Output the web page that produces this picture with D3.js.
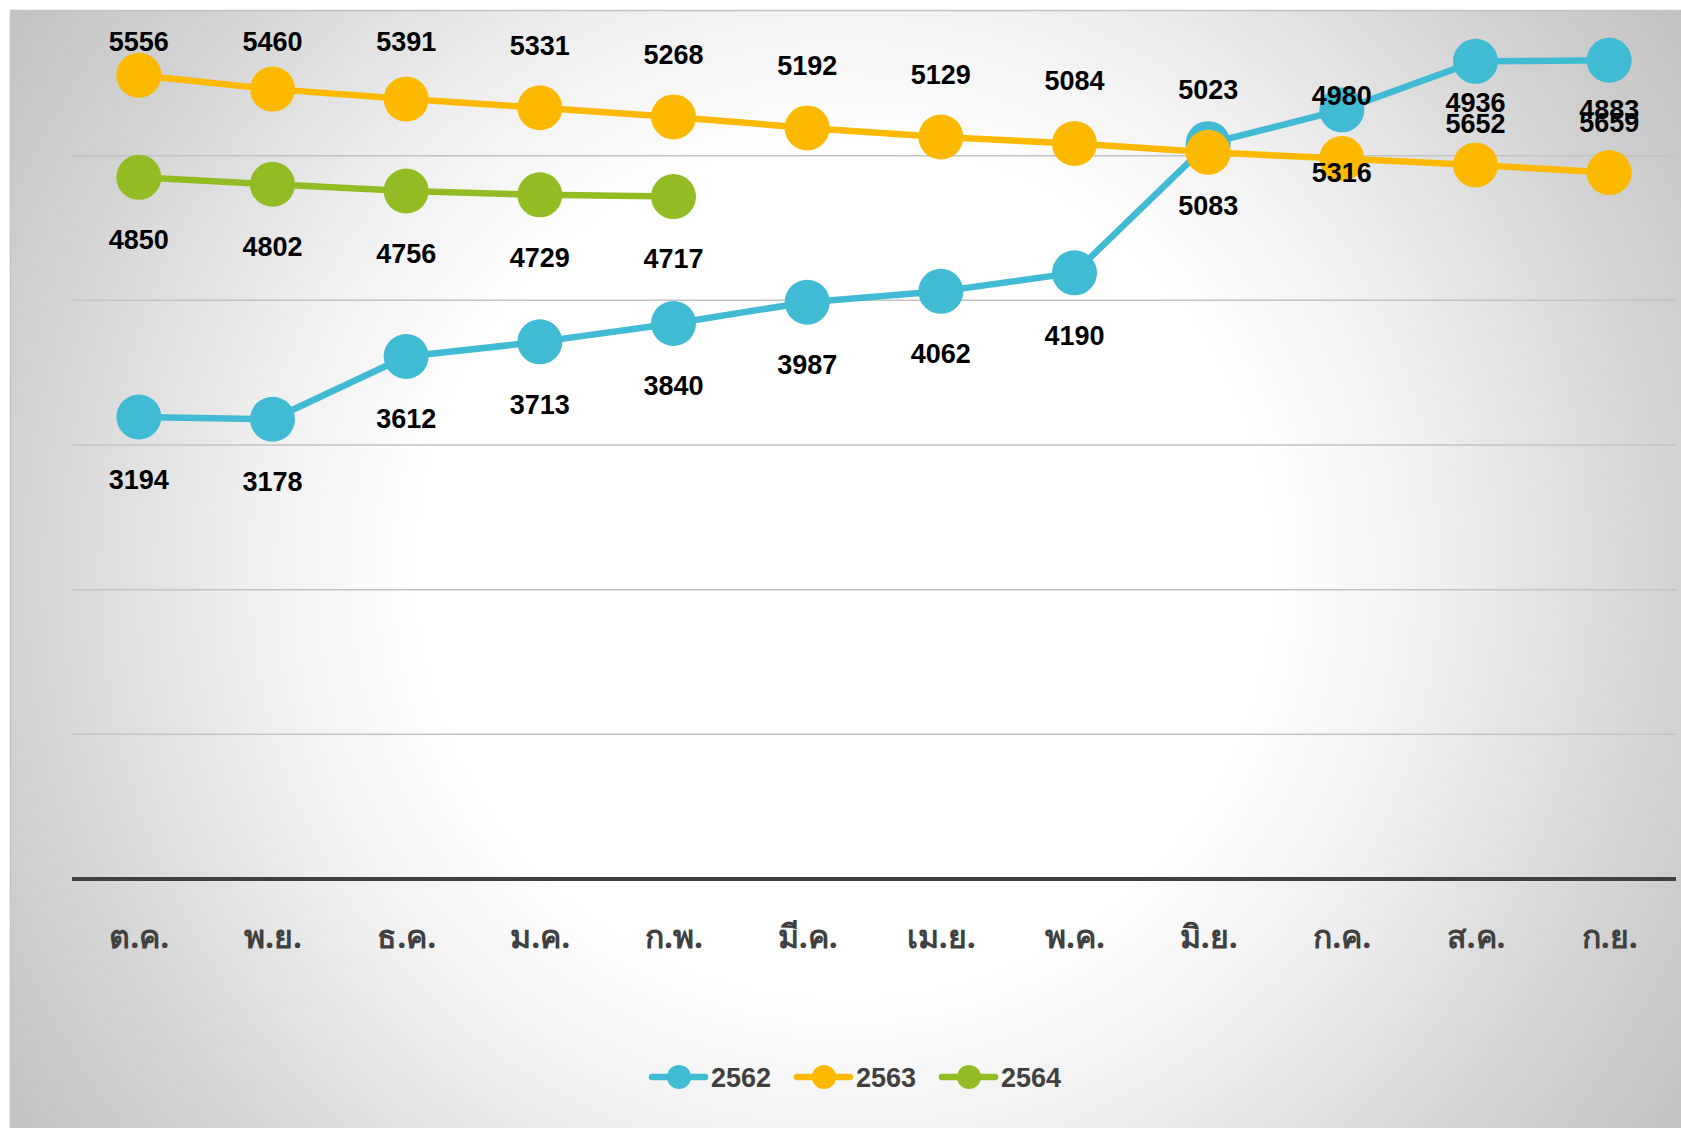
<!DOCTYPE html>
<html>
<head>
<meta charset="utf-8">
<script src="https://d3js.org/d3.v7.min.js"></script>
<style>
    html, body { margin: 0; padding: 0; background: #ffffff; }
    #chart-container { width: 1681px; height: 1128px; }
</style>
</head>
<body>
<div id="chart-container"></div>
<script>
// Monthly counts, fiscal years 2562-2564
const months = ['ต.ค.', 'พ.ย.', 'ธ.ค.', 'ม.ค.', 'ก.พ.', 'มี.ค.', 'เม.ย.', 'พ.ค.', 'มิ.ย.', 'ก.ค.', 'ส.ค.', 'ก.ย.'];
const values2562 = [3194, 3178, 3612, 3713, 3840, 3987, 4062, 4190, 5083, 5316, 5652, 5659];
const values2563 = [5556, 5460, 5391, 5331, 5268, 5192, 5129, 5084, 5023, 4980, 4936, 4883];
const values2564 = [4850, 4802, 4756, 4729, 4717, null, null, null, null, null, null, null];
const seriesNames = ['2562', '2563', '2564'];
const gridValues = [1000, 2000, 3000, 4000, 5000];

document.addEventListener('DOMContentLoaded', function() {
    drawChart();
});

function drawChart() {
    const container = document.getElementById('chart-container');
    const width = 1681;
    const height = 1128;

    const series = [
        { name: seriesNames[0], values: values2562, color: '#41BAD4', labelPos: 'below' },
        { name: seriesNames[1], values: values2563, color: '#FCB900', labelPos: 'above' },
        { name: seriesNames[2], values: values2564, color: '#92BC23', labelPos: 'below' }
    ];

    const svg = d3.create('svg')
        .attr('width', width)
        .attr('height', height)
        .attr('viewBox', [0, 0, width, height]);

    // Background gradient (white centre, grey edges)
    const grad = svg.append('defs').append('radialGradient')
        .attr('id', 'bg-grad')
        .attr('gradientUnits', 'userSpaceOnUse')
        .attr('cx', 845)
        .attr('cy', 570)
        .attr('r', 1050);
    grad.append('stop').attr('offset', '0%').attr('stop-color', '#ffffff');
    grad.append('stop').attr('offset', '40%').attr('stop-color', '#ffffff');
    grad.append('stop').attr('offset', '57%').attr('stop-color', '#efefef');
    grad.append('stop').attr('offset', '80%').attr('stop-color', '#d2d2d2');
    grad.append('stop').attr('offset', '100%').attr('stop-color', '#bebebe');

    svg.append('rect')
        .attr('x', 10.5)
        .attr('y', 10.5)
        .attr('width', width)
        .attr('height', height)
        .attr('fill', 'url(#bg-grad)')
        .attr('stroke', '#c4c4c4')
        .attr('stroke-width', 1.5);

    const x = d3.scalePoint()
        .domain(months)
        .range([72, 1676])
        .padding(0.5);

    const y = d3.scaleLinear()
        .domain([0, 6000])
        .range([879, 11]);

    // Gridlines
    svg.append('g')
        .selectAll('line')
        .data(gridValues)
        .join('line')
        .attr('x1', 72)
        .attr('x2', 1676)
        .attr('y1', d => y(d))
        .attr('y2', d => y(d))
        .attr('stroke', '#c3c3c3')
        .attr('stroke-width', 1.5);

    // Category axis
    const xAxis = svg.append('g')
        .attr('transform', `translate(0, ${y(0)})`)
        .call(d3.axisBottom(x).tickSize(0).tickPadding(0));
    xAxis.select('.domain')
        .attr('d', 'M72,0H1676')
        .attr('stroke', '#404040')
        .attr('stroke-width', 4);
    xAxis.selectAll('text')
        .attr('y', 58)
        .attr('dy', '0.35em')
        .style('font-family', "Tahoma, 'Noto Sans', 'DejaVu Sans', sans-serif")
        .style('font-size', '32px')
        .style('font-weight', '700')
        .style('fill', '#404040');

    const line = d3.line()
        .defined(d => d.value != null)
        .x(d => x(d.month))
        .y(d => y(d.value));

    // Lines and markers
    series.forEach(s => {
        const pts = s.values.map((v, i) => ({ month: months[i], value: v }));
        const g = svg.append('g');
        g.append('path')
            .datum(pts)
            .attr('d', line)
            .attr('fill', 'none')
            .attr('stroke', s.color)
            .attr('stroke-width', 6.5)
            .attr('stroke-linejoin', 'round');
        g.selectAll('circle')
            .data(pts.filter(d => d.value != null))
            .join('circle')
            .attr('cx', d => x(d.month))
            .attr('cy', d => y(d.value))
            .attr('r', 22.5)
            .attr('fill', s.color);
    });

    // Data labels
    series.forEach(s => {
        const pts = s.values.map((v, i) => ({ month: months[i], value: v }))
            .filter(d => d.value != null);
        svg.append('g')
            .selectAll('text')
            .data(pts)
            .join('text')
            .attr('x', d => x(d.month))
            .attr('y', d => {
                if (s.labelPos === 'above') return Math.max(y(d.value) - 63, 41);
                return y(d.value) + 62;
            })
            .attr('dy', '0.36em')
            .attr('text-anchor', 'middle')
            .style('font-family', "Arial, 'Liberation Sans', sans-serif")
            .style('font-size', '27px')
            .style('font-weight', '700')
            .style('fill', '#000000')
            .text(d => d.value);
    });

    // Legend
    const legend = svg.append('g')
        .attr('transform', 'translate(650, 1077)');

    const legendItems = legend.selectAll('g')
        .data(series)
        .join('g')
        .attr('transform', (d, i) => `translate(${i * 145}, 0)`);

    legendItems.append('line')
        .attr('x1', 2)
        .attr('x2', 55)
        .attr('stroke', d => d.color)
        .attr('stroke-width', 6.5)
        .attr('stroke-linecap', 'round');

    legendItems.append('circle')
        .attr('cx', 29)
        .attr('r', 12)
        .attr('fill', d => d.color);

    legendItems.append('text')
        .attr('x', 61)
        .attr('dy', '0.36em')
        .style('font-family', "Arial, 'Liberation Sans', sans-serif")
        .style('font-size', '27px')
        .style('font-weight', '700')
        .style('fill', '#404040')
        .text(d => d.name);

    container.appendChild(svg.node());
}
</script>
</body>
</html>
